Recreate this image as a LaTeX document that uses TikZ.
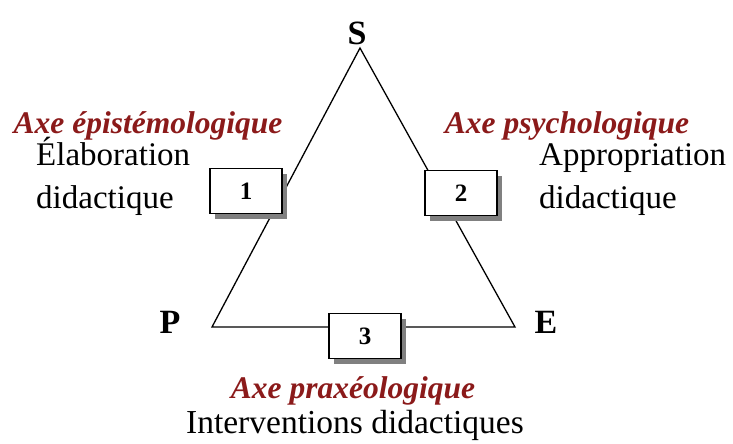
\documentclass[tikz,border=0pt]{standalone}
\usepackage{fontspec}
\setmainfont{Liberation Serif}
\usetikzlibrary{shadows}
\definecolor{axered}{HTML}{8B1A1A}
\begin{document}
\begin{tikzpicture}[x=1pt,y=-1pt,
  numbox/.style={draw=black,line width=1.6pt,fill=white,minimum width=72pt,minimum height=45pt,inner sep=0pt,
     font=\bfseries\fontsize{25}{25}\selectfont,
     drop shadow={shadow xshift=5pt,shadow yshift=-5pt,fill=black!50,opacity=1}},
  vlabel/.style={font=\bfseries\fontsize{34}{34}\selectfont,inner sep=0pt},
  axe/.style={font=\bfseries\itshape\fontsize{31.5}{31.5}\selectfont,text=axered,inner sep=0pt,anchor=base},
  desc/.style={font=\fontsize{33}{33}\selectfont,inner sep=0pt,anchor=base west}]
\useasboundingbox (0,0) rectangle (733,444);
\coordinate (Sv) at (360,48);
\coordinate (Pv) at (212,327);
\coordinate (Ev) at (515,327);
\draw[line width=1.3pt] (Sv) -- (Pv) -- (Ev) -- cycle;
\node[numbox] (b1) at (246,191) {1};
\node[numbox] (b2) at (461,193) {2};
\node[numbox] (b3) at (365,336) {3};
\node[vlabel] (S) at (357,33) {S};
\node[vlabel] (P) at (170,322) {P};
\node[vlabel] (E) at (546,322) {E};
\node[axe] (a1) at (148,133) {Axe épistémologique};
\node[axe] (a2) at (567,133) {Axe psychologique};
\node[axe] (a3) at (353,398) {Axe praxéologique};
\node[desc] (d1a) at (36,165) {Élaboration};
\node[desc] (d1b) at (36,208) {didactique};
\node[desc] (d2a) at (539,165) {Appropriation};
\node[desc] (d2b) at (539,208) {didactique};
\node[font=\fontsize{33.5}{33.5}\selectfont,inner sep=0pt,anchor=base] (d3) at (355,433) {Interventions didactiques};
\end{tikzpicture}
\end{document}
